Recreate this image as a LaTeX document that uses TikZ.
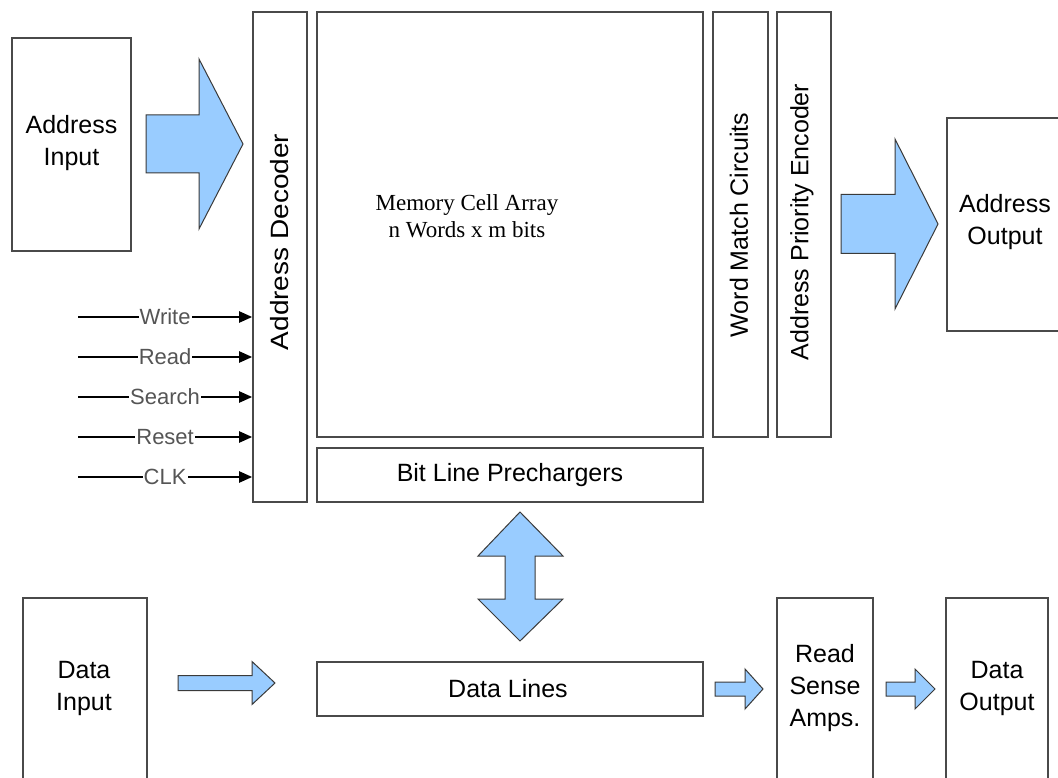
\documentclass[tikz,border=0pt]{standalone}
\usepackage{fontspec}
\setmainfont{Liberation Sans}
\newfontfamily\memfont{Liberation Serif}
\usetikzlibrary{arrows.meta}

\definecolor{arrowblue}{HTML}{99CCFF}
\definecolor{arrowedge}{HTML}{3A3A3A}
\definecolor{boxgray}{HTML}{4A4A4A}
\definecolor{ctlgray}{HTML}{555555}

% right-pointing block arrow: tail x, head base x, tip x, centre y, shaft half, head half
\newcommand\blockright[6]{%
  \draw[blk] (#1,#4-#5) -- (#2,#4-#5) -- (#2,#4-#6) -- (#3,#4)
    -- (#2,#4+#6) -- (#2,#4+#5) -- (#1,#4+#5) -- cycle;}

\begin{document}
\begin{tikzpicture}[x=1pt,y=-1pt,
  box/.style={draw=boxgray, line width=1.6pt, minimum width=#1, inner sep=0pt},
  blk/.style={draw=arrowedge, fill=arrowblue, line width=1pt, line join=miter},
  lbl/.style={font=\fontsize{25}{32}\selectfont, align=center, inner sep=0pt},
  vlbl/.style={font=\fontsize{25}{30}\selectfont, rotate=90, inner sep=0pt},
  ctl/.style={font=\fontsize{22}{26}\selectfont, text=ctlgray, fill=white, inner sep=1pt},
  ctlline/.style={line width=2.2pt, -{Triangle[length=13pt,width=11pt]}}
]
\clip (0,0) rectangle (1058,778);
\fill[white] (0,0) rectangle (1058,778);

% address path
\node[box=119, minimum height=213] (addrin) at (71.5,144.5) {};
\node[lbl] (addrinT) at (71.5,143) {Address\\Input};
\blockright{146}{199}{243}{144}{29}{85}

\node[box=54, minimum height=490] (dec) at (280,257) {};
\node[vlbl] (decT) at (280,242) {\scalebox{1.12}[1]{Address Decoder}};

\node[box=386, minimum height=425] (mem) at (510,224.5) {};
\node[font=\memfont\fontsize{23}{27}\selectfont, align=center, inner sep=0pt, text=black]
  (memT) at (467,216) {Memory Cell Array\\n Words x m bits};
\node[box=386, minimum height=54] (blp) at (510,475) {};
\node[lbl] (blpT) at (510,475) {Bit Line Prechargers};

\node[box=55, minimum height=425] (wmc) at (740.5,224.5) {};
\node[vlbl] (wmcT) at (739,225) {Word Match Circuits};
\node[box=54, minimum height=425] (ape) at (804,224.5) {};
\node[vlbl] (apeT) at (802,222) {Address Priority Encoder};

\blockright{841}{895}{938}{224}{29.5}{85}
\node[box=123, minimum height=213] (addrout) at (1008.5,224.5) {};
\node[lbl] (addroutT) at (1005,222) {Address\\Output};

% control inputs of the decoder
\foreach \name/\yy in {Write/317, Read/357, Search/397, Reset/437, CLK/477}{
  \coordinate (c\name) at (78,\yy);
  \draw[ctlline] (c\name) -- (dec.west |- c\name)
    node[ctl, midway] (l\name) {\name};
}

% bidirectional data arrow
\draw[blk] (520,512) -- (563,556) -- (535,556) -- (535,599) -- (563,599)
  -- (520,641) -- (478,599) -- (505,599) -- (505,556) -- (478,556) -- cycle;

% data path
\node[box=124, minimum height=202] (datain) at (85,699) {};
\node[lbl] (datainT) at (84,688) {Data\\Input};
\blockright{178}{252}{275}{683}{7.5}{21.5}
\node[box=386, minimum height=54] (dlines) at (510,689) {};
\node[lbl] (dlinesT) at (508,689) {Data Lines};
\blockright{715}{745}{763}{689}{7}{20}
\node[box=96, minimum height=202] (rsa) at (825,699) {};
\node[lbl] (rsaT) at (825,688) {Read\\Sense\\Amps.};
\blockright{886}{915}{935}{689}{7}{20}
\node[box=102, minimum height=202] (dataout) at (997,699) {};
\node[lbl] (dataoutT) at (997,688) {Data\\Output};
\end{tikzpicture}
\end{document}
